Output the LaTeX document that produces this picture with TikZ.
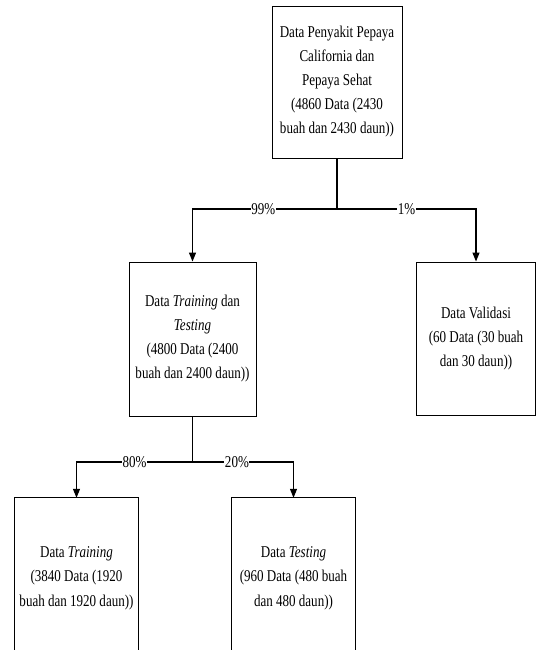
\documentclass[tikz,border=0pt]{standalone}
\usepackage{fontspec}
\setmainfont{Liberation Serif}[FakeStretch=0.79]
\usetikzlibrary{arrows.meta}
\begin{document}
\begin{tikzpicture}[x=1pt,y=-1pt,
  box/.style={draw=black,line width=0.9pt,align=center,inner sep=0pt,
    font=\fontsize{16.5}{24}\selectfont},
  openbox/.style={align=center,inner sep=0pt,font=\fontsize{16.5}{24.5}\selectfont},
  conn/.style={line width=1.2pt},
  arr/.style={conn,-{Triangle[length=9pt,width=7pt]}},
  lbl/.style={fill=white,inner sep=0.5pt,font=\fontsize{16.5}{18}\selectfont}]
\useasboundingbox (0,0) rectangle (536,650);
\clip (0,0) rectangle (536,650);
% top box
\node[box,minimum width=130pt,minimum height=152pt] (top) at (337,82)
  {Data Penyakit Pepaya\\California dan\\Pepaya Sehat\\(4860 Data (2430\\buah dan 2430 daun))};
% middle boxes
\node[box,minimum width=127pt,minimum height=154pt] (tt) at (192.5,339)
  {Data \textit{Training} dan\\\textit{Testing}\\(4800 Data (2400\\buah dan 2400 daun))};
\node[box,minimum width=119pt,minimum height=153pt] (val) at (476,338.5)
  {Data Validasi\\(60 Data (30 buah\\dan 30 daun))};
% bottom boxes (cut by the lower edge)
\node[openbox,minimum width=123pt,minimum height=160pt] (tr) at (76.5,578)
  {Data \textit{Training}\\(3840 Data (1920\\buah dan 1920 daun))};
\node[openbox,minimum width=123pt,minimum height=160pt] (te) at (293.5,578)
  {Data \textit{Testing}\\(960 Data (480 buah\\dan 480 daun))};
\draw[line width=0.9pt] (tr.south west) -- (tr.north west) -- (tr.north east) -- (tr.south east);
\draw[line width=0.9pt] (te.south west) -- (te.north west) -- (te.north east) -- (te.south east);
% connectors
\coordinate (j1) at (337,209);
\coordinate (j2) at (192.5,462);
\draw[conn] (top.south) -- (j1);
\draw[arr] (j1) -| node[lbl,pos=0.255] {99\%} (tt.north);
\draw[arr] (j1) -| node[lbl,pos=0.25] {1\%} (val.north);
\draw[conn] (tt.south) -- (j2);
\draw[arr] (j2) -| node[lbl,pos=0.25] {80\%} (tr.north);
\draw[arr] (j2) -| node[lbl,pos=0.22] {20\%} (te.north);
\end{tikzpicture}
\end{document}
